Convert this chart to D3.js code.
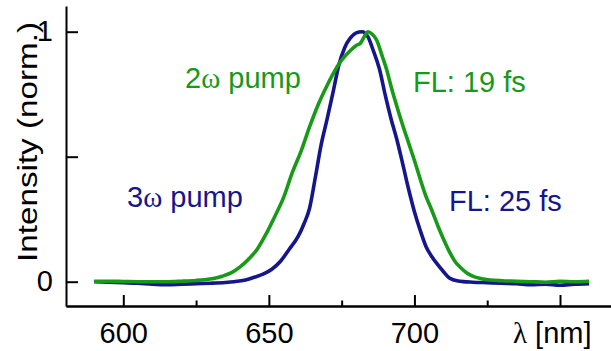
<!DOCTYPE html>
<html>
<head>
<meta charset="utf-8">
<script src="https://cdn.jsdelivr.net/npm/d3@7"></script>
<style>
  body { margin: 0; background: #fff; }
  svg { display: block; font-family: "Liberation Sans", Arial, sans-serif; }
</style>
</head>
<body>
<svg id="spectrum-svg" width="611" height="351"></svg>
<script>
// data
var wavelength3w = [590, 595, 600, 605, 610, 615, 620, 625, 630, 635, 638, 642, 645, 648, 651, 654, 657, 660, 662, 664, 666, 668, 670, 672, 674, 676, 678, 680, 682, 684, 686, 688, 690, 692, 694, 696, 698, 700, 702, 704, 706, 708, 710, 712, 715, 720, 725, 730, 735, 740, 745, 750, 755, 760]
var intensity3w = [0.000, -0.002, -0.004, -0.006, -0.010, -0.012, -0.010, -0.008, -0.006, -0.003, 0.000, 0.007, 0.018, 0.030, 0.050, 0.082, 0.130, 0.180, 0.230, 0.295, 0.420, 0.550, 0.650, 0.755, 0.865, 0.935, 0.975, 0.995, 1.000, 0.980, 0.920, 0.850, 0.745, 0.650, 0.567, 0.470, 0.370, 0.280, 0.205, 0.140, 0.100, 0.068, 0.040, 0.015, 0.003, -0.002, -0.004, -0.006, -0.008, -0.012, -0.010, -0.014, -0.010, -0.008]

var wavelength2w = [590, 595, 600, 605, 610, 615, 620, 625, 628, 631, 634, 637, 640, 643, 646, 649, 652, 655, 658, 661, 664, 667, 670, 672, 674, 676, 678, 680, 681.5, 683, 684, 685.5, 687, 689, 690.5, 692, 694, 696, 698, 700, 702, 704, 706, 708, 710, 712, 714, 716, 718, 720, 723, 726, 730, 735, 740, 745, 750, 755, 760]
var intensity2w = [0.002, 0.002, 0.001, 0.000, 0.000, 0.000, 0.002, 0.005, 0.008, 0.013, 0.022, 0.035, 0.058, 0.090, 0.130, 0.190, 0.260, 0.335, 0.435, 0.520, 0.620, 0.710, 0.785, 0.830, 0.870, 0.900, 0.925, 0.945, 0.955, 0.985, 1.000, 0.990, 0.967, 0.900, 0.847, 0.780, 0.700, 0.625, 0.555, 0.485, 0.410, 0.340, 0.285, 0.225, 0.170, 0.120, 0.080, 0.055, 0.035, 0.022, 0.012, 0.007, 0.004, 0.002, 0.000, -0.002, 0.002, 0.000, 0.002]

var xMajorTicks = [600, 650, 700, 750]
var xMinorTicks = [625, 675, 725]
var yTicks = [0, 0.5, 1]
var yTickLabels = ["0", "", "1"]

var green = "#179a17"
var blue = "#16168c"

function drawChart() {
  var svg = d3.select("#spectrum-svg")

  var x = d3.scaleLinear().domain([600, 750]).range([123.3, 560])
  var y = d3.scaleLinear().domain([0, 1]).range([281.7, 31.7])
  // axis scales stretched to the full frame
  var xFrame = x.copy().domain([x.invert(66), x.invert(611)]).range([66, 611])
  var yFrame = y.copy().domain([y.invert(306), y.invert(6)]).range([306, 6])

  var xAxis = d3.axisBottom(xFrame).tickValues(xMajorTicks)
    .tickSizeInner(-11).tickSizeOuter(0).tickPadding(16)
    .tickFormat(function(d){ return d == 750 ? "" : d })
  var xMinor = d3.axisBottom(xFrame).tickValues(xMinorTicks)
    .tickSizeInner(-5.5).tickSizeOuter(0).tickFormat("")
  var yAxis = d3.axisLeft(yFrame).tickValues(yTicks)
    .tickSizeInner(-12).tickSizeOuter(0).tickPadding(13)
    .tickFormat(function(d, i){ return yTickLabels[i] })

  svg.append("g").attr("transform", "translate(0,306)").call(xAxis)
  svg.append("g").attr("transform", "translate(0,306)").call(xMinor)
  svg.append("g").attr("transform", "translate(66,0)").call(yAxis)

  svg.selectAll(".domain, .tick line").attr("stroke", "#000").attr("stroke-width", 2)
  svg.selectAll(".tick text").attr("font-size", 29).attr("font-family", "Liberation Sans, Arial, sans-serif").attr("fill", "#000")

  // curves
  var line = d3.line().curve(d3.curveMonotoneX)
    .x(function(d){ return x(d[0]) })
    .y(function(d){ return y(d[1]) })

  var blueData = wavelength3w.map(function(w, i){ return [w, intensity3w[i]] })
  var greenData = wavelength2w.map(function(w, i){ return [w, intensity2w[i]] })

  svg.append("path").datum(blueData).attr("d", line)
    .attr("fill", "none").attr("stroke", blue).attr("stroke-width", 3.6).attr("stroke-linejoin", "round")
  svg.append("path").datum(greenData).attr("d", line)
    .attr("fill", "none").attr("stroke", green).attr("stroke-width", 3.6).attr("stroke-linejoin", "round")

  // labels
  function pumpLabel(num, px, py, color) {
    var t = svg.append("text").attr("x", px).attr("y", py).attr("fill", color).attr("font-size", 29)
    t.append("tspan").text(num)
    t.append("tspan").attr("font-family", "Liberation Serif, serif").text("\u03c9")
    t.append("tspan").text(" pump")
  }
  pumpLabel("2", 185, 88, green)
  pumpLabel("3", 127, 207, blue)

  svg.append("text").attr("x", 413).attr("y", 92).attr("fill", green).attr("font-size", 29).text("FL: 19 fs")
  svg.append("text").attr("x", 449).attr("y", 211).attr("fill", blue).attr("font-size", 29).text("FL: 25 fs")

  var xl = svg.append("text").attr("x", 513).attr("y", 343).attr("font-size", 29).attr("fill", "#000")
  xl.append("tspan").attr("font-family", "Liberation Serif, serif").text("\u03bb")
  xl.append("tspan").text(" [nm]")

  svg.append("text")
    .attr("transform", "translate(37,142) rotate(-90)")
    .attr("text-anchor", "middle").attr("font-size", 27).attr("fill", "#000")
    .attr("textLength", 240).attr("lengthAdjust", "spacingAndGlyphs")
    .text("Intensity (norm.)")
};

window.onload = function() {
  drawChart();
};
</script>
</body>
</html>
